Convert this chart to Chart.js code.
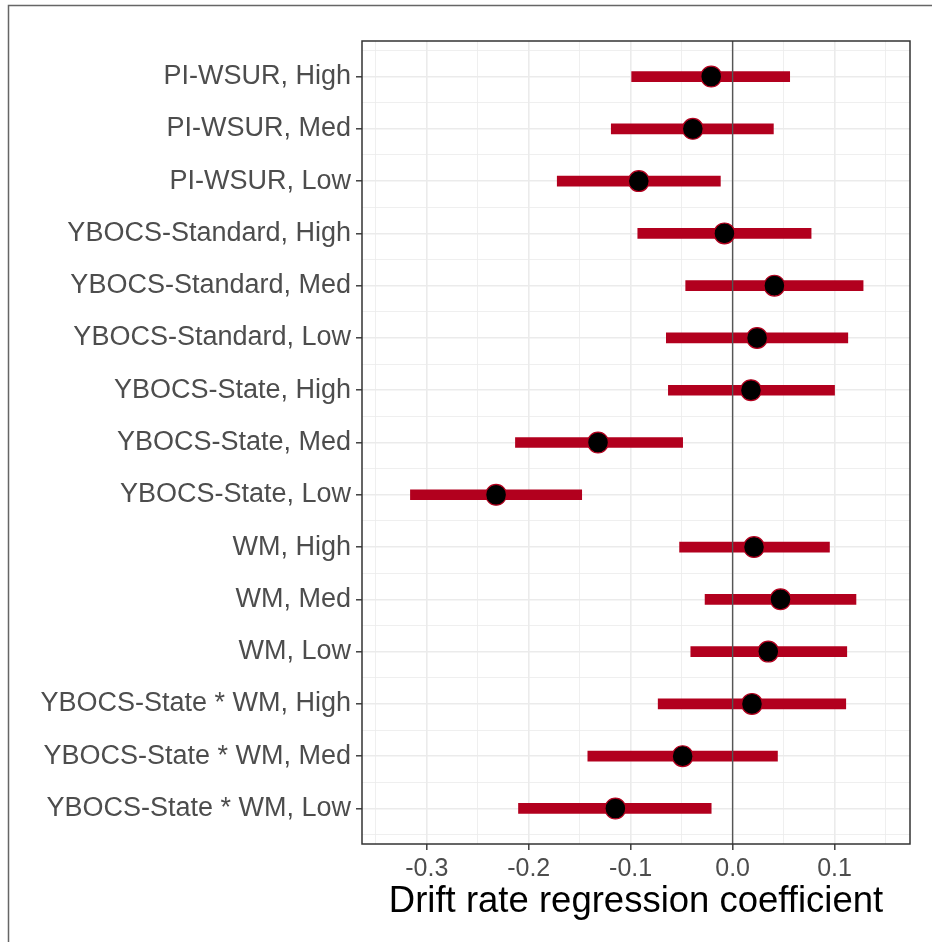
<!DOCTYPE html>
<html>
<head>
<meta charset="utf-8">
<script src="https://cdn.jsdelivr.net/npm/chart.js@4/dist/chart.umd.min.js"></script>
<style>
  html, body { margin: 0; padding: 0; background: #fff; }
  #wrap { width: 932px; height: 942px; }
</style>
</head>
<body>
<div id="wrap"><canvas id="forest" width="932" height="942"></canvas></div>
<script>
// Rows, top to bottom
const categories = [
  'PI-WSUR, High', 'PI-WSUR, Med', 'PI-WSUR, Low',
  'YBOCS-Standard, High', 'YBOCS-Standard, Med', 'YBOCS-Standard, Low',
  'YBOCS-State, High', 'YBOCS-State, Med', 'YBOCS-State, Low',
  'WM, High', 'WM, Med', 'WM, Low',
  'YBOCS-State * WM, High', 'YBOCS-State * WM, Med', 'YBOCS-State * WM, Low',
];
// Point estimates and interval ends
const estimates = [-0.021, -0.039, -0.092, -0.008, 0.041, 0.024, 0.018, -0.132, -0.232, 0.021, 0.047, 0.035, 0.019, -0.049, -0.115];
const lower = [-0.099, -0.119, -0.172, -0.093, -0.046, -0.065, -0.063, -0.213, -0.316, -0.052, -0.027, -0.041, -0.073, -0.142, -0.210];
const upper = [0.056, 0.040, -0.012, 0.077, 0.128, 0.113, 0.100, -0.049, -0.148, 0.095, 0.121, 0.112, 0.111, 0.044, -0.021];
// x axis ticks
const xTicks = [-0.3, -0.2, -0.1, 0.0, 0.1];
const xMinorTicks = [-0.35, -0.25, -0.15, -0.05, 0.05, 0.15];

const RED = '#B2001E';
const GRID = '#EBEBEB';
const FONT = "'Liberation Sans', Arial, Helvetica, sans-serif";

const isMajorX = (v) => xTicks.some((t) => Math.abs(t - v) < 1e-9);
const tickVal = (c) => (c && c.tick ? c.tick.value : NaN);

// background, outer frame, zero line, panel border
const framePlugin = {
  id: 'frame',
  beforeDraw(chart) {
    const { ctx, width, height } = chart;
    ctx.save();
    ctx.fillStyle = '#fff';
    ctx.fillRect(0, 0, width, height);
    ctx.strokeStyle = '#666';
    ctx.lineWidth = 1.5;
    ctx.beginPath();
    ctx.moveTo(8.5, height);
    ctx.lineTo(8.5, 5.5);
    ctx.lineTo(width, 5.5);
    ctx.stroke();
    ctx.restore();
  },
  afterDatasetDraw(chart, args) {
    if (args.index !== 1) return;
    const { ctx, chartArea } = chart;
    const x0 = chart.scales.x.getPixelForValue(0);
    ctx.save();
    ctx.strokeStyle = '#555';
    ctx.lineWidth = 1.4;
    ctx.beginPath();
    ctx.moveTo(x0, chartArea.top);
    ctx.lineTo(x0, chartArea.bottom);
    ctx.stroke();
    ctx.restore();
  },
  afterDraw(chart) {
    const { ctx, chartArea } = chart;
    ctx.save();
    ctx.strokeStyle = '#333';
    ctx.lineWidth = 1.5;
    ctx.strokeRect(chartArea.left, chartArea.top,
      chartArea.right - chartArea.left, chartArea.bottom - chartArea.top);
    ctx.restore();
  },
};

const ctx = document.getElementById('forest');
// eslint-disable-next-line no-unused-vars
const chart = new Chart(ctx, {
  type: 'scatter',
  data: {
    datasets: [
      // Estimates
      {
        label: 'Estimate',
        data: categories.map((c, i) => ({ x: estimates[i], y: i })),
        backgroundColor: '#000',
        borderColor: RED,
        borderWidth: 1.2,
        pointRadius: 10.4,
        order: 0,
      },
      // Intervals
      {
        type: 'bar',
        label: 'Interval',
        indexAxis: 'y',
        data: categories.map((c, i) => ({ y: i, x: [lower[i], upper[i]] })),
        backgroundColor: RED,
        borderWidth: 0,
        barThickness: 10,
        order: 1,
      },
    ],
  },
  options: {
    responsive: false,
    animation: false,
    events: [],
    layout: {
      padding: { top: 41, right: 22, left: 0, bottom: 0 },
    },
    scales: {
      x: {
        type: 'linear',
        min: -0.3635,
        max: 0.174,
        offset: false,
        afterBuildTicks: (scale) => {
          scale.ticks = [...xTicks, ...xMinorTicks].sort((a, b) => a - b).map((v) => ({ value: v }));
        },
        afterFit: (scale) => { scale.height = 98; },
        border: { display: false },
        grid: {
          offset: false,
          color: GRID,
          lineWidth: (c) => (isMajorX(tickVal(c)) ? 1.6 : 0.8),
          tickColor: (c) => (isMajorX(tickVal(c)) ? '#333' : 'rgba(0,0,0,0)'),
          tickLength: 6,
          tickWidth: 1.4,
        },
        ticks: {
          autoSkip: false,
          maxRotation: 0,
          padding: 4,
          color: '#4D4D4D',
          font: { family: FONT, size: 25 },
          callback: (v) => (isMajorX(v) ? Number(v).toFixed(1) : ''),
        },
        title: {
          display: true,
          text: 'Drift rate regression coefficient',
          color: '#000',
          font: { family: FONT, size: 36.5 },
          padding: { top: 0, bottom: 18 },
        },
      },
      y: {
        type: 'linear',
        reverse: true,
        offset: false,
        min: -0.68,
        max: categories.length - 1 + 0.68,
        afterBuildTicks: (scale) => {
          const t = [];
          for (let i = -1; i < categories.length; i += 1) {
            if (i >= 0) t.push({ value: i });
            t.push({ value: i + 0.5 });
          }
          scale.ticks = t;
        },
        afterFit: (scale) => { scale.width = 362; },
        border: { display: false },
        grid: {
          offset: false,
          color: GRID,
          lineWidth: (c) => (Number.isInteger(tickVal(c)) ? 1.6 : 0.8),
          tickColor: (c) => (Number.isInteger(tickVal(c)) ? '#333' : 'rgba(0,0,0,0)'),
          tickLength: 6,
          tickWidth: 1.4,
        },
        ticks: {
          autoSkip: false,
          padding: 5,
          color: '#4D4D4D',
          font: { family: FONT, size: 27 },
          callback: (v) => (Number.isInteger(v) ? categories[v] : ''),
        },
      },
    },
    plugins: {
      legend: { display: false },
      tooltip: { enabled: false },
    },
  },
  plugins: [framePlugin],
});
</script>
</body>
</html>
